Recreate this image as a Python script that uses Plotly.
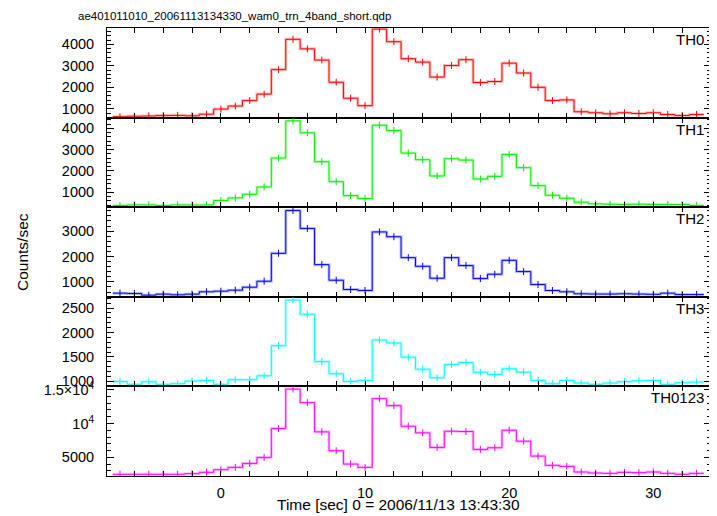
import plotly.graph_objects as go
from plotly.subplots import make_subplots

# ---- data ----
time_bins = list(range(-7, 34))  # bin centers [sec], 1 s bins
th0 = [630, 650, 660, 680, 690, 670, 745, 983, 1125, 1379, 1681, 2823, 4235, 3790, 3267, 2236,
       1490, 1141, 4711, 4124, 3331, 3172, 2474, 3013, 3283, 2220, 2268, 3124, 2665, 1998, 1379,
       1411, 857, 810, 763, 810, 778, 810, 730, 683, 730]
th1 = [377, 408, 408, 377, 408, 408, 408, 611, 735, 907, 1249, 2603, 4347, 3787, 2432, 1498,
       844, 704, 4144, 3895, 2837, 2526, 1763, 2572, 2510, 1622, 1747, 2775, 2152, 1311, 860,
       720, 533, 455, 440, 430, 440, 430, 424, 424, 377]
th2 = [556, 543, 477, 517, 490, 517, 608, 634, 673, 791, 1026, 2124, 3809, 3104, 1679, 1065,
       699, 660, 2967, 2777, 1954, 1614, 1144, 1954, 1640, 1130, 1301, 1849, 1405, 895, 660,
       608, 530, 520, 520, 530, 520, 510, 556, 500, 500]
th3 = [1000, 939, 993, 939, 952, 1007, 1020, 939, 1034, 1034, 1115, 1731, 2665, 2374, 1406, 1156,
       1000, 1020, 1846, 1785, 1494, 1250, 1074, 1345, 1386, 1189, 1142, 1257, 1189, 1020, 952,
       1020, 966, 939, 966, 993, 1014, 1020, 939, 973, 986]
th0123 = [2500, 2500, 2500, 2500, 2500, 2594, 2790, 3182, 3525, 4113, 4996, 9259, 15089, 13081,
          8768, 5975, 4015, 3525, 13668, 12644, 9601, 8621, 6470, 8866, 8817, 6176, 6416, 9013,
          7396, 5191, 3819, 3672, 2839, 2692, 2643, 2790, 2741, 2839, 2643, 2500, 2643]

band_names = ["TH0", "TH1", "TH2", "TH3", "TH0123"]
band_values = [th0, th1, th2, th3, th0123]
band_colors = ["#ff0000", "#00ee00", "#0000ff", "#00ffff", "#ff00ff"]
y_ranges = [[586, 4762], [300, 4500], [412, 3941], [898, 2730], [2250, 15480]]
y_tickvals = [[1000, 2000, 3000, 4000], [1000, 2000, 3000, 4000], [1000, 2000, 3000],
              [1000, 1500, 2000, 2500], [5000, 10000, 15000]]
y_ticktext = [["1000", "2000", "3000", "4000"], ["1000", "2000", "3000", "4000"],
              ["1000", "2000", "3000"], ["1000", "1500", "2000", "2500"],
              ["5000", "10<sup>4</sup>", "1.5×10<sup>4</sup>"]]
y_minor = [200, 200, 200, 100, 1000]
x_tickvals = [0, 10, 20, 30]
title_text = "ae401011010_20061113134330_wam0_trn_4band_short.qdp"
xlabel = "Time [sec] 0 = 2006/11/13 13:43:30"
ylabel = "Counts/sec"

FONT = "Liberation Sans, Arial, Helvetica, sans-serif"

# page body has an 8px margin: figure is drawn 8px in from the top-left corner
W, H = 709, 508

fig = make_subplots(rows=5, cols=1, shared_xaxes=True, vertical_spacing=0)

edges = [t - 0.5 for t in time_bins] + [time_bins[-1] + 0.5]
for i, (vals, col) in enumerate(zip(band_values, band_colors)):
    r = i + 1
    ystep = vals + [vals[-1]]
    fig.add_trace(go.Scatter(x=edges, y=ystep, mode="lines", line_shape="hv",
                             line=dict(color=col, width=3), opacity=0.25,
                             hoverinfo="skip", showlegend=False), row=r, col=1)
    fig.add_trace(go.Scatter(x=edges, y=ystep, mode="lines", line_shape="hv",
                             line=dict(color=col, width=1),
                             showlegend=False), row=r, col=1)
    fig.add_trace(go.Scatter(x=time_bins, y=vals, mode="markers",
                             marker=dict(symbol="line-ns", size=5,
                                         line=dict(color=col, width=1)),
                             showlegend=False), row=r, col=1)
    fig.update_yaxes(range=y_ranges[i], tickmode="array", tickvals=y_tickvals[i],
                     ticktext=y_ticktext[i], ticks="inside", ticklen=7, tickwidth=1,
                     tickcolor="black", showline=True, linecolor="black", linewidth=1,
                     mirror="ticks", showgrid=False, zeroline=False,
                     ticklabelstandoff=9,
                     minor=dict(dtick=y_minor[i], tick0=0, ticks="inside", ticklen=4,
                                tickcolor="black", tickwidth=1, showgrid=False),
                     tickfont=dict(family=FONT, size=14.5, color="black"),
                     row=r, col=1)
    fig.update_xaxes(range=[-7.9, 34.0], tickmode="array", tickvals=x_tickvals,
                     ticks="inside", ticklen=5, tickwidth=1, tickcolor="black",
                     showline=True, linecolor="black", linewidth=1, mirror="ticks",
                     showgrid=False, zeroline=False,
                     minor=dict(dtick=2, tick0=0, ticks="inside", ticklen=5,
                                tickcolor="black", tickwidth=1, showgrid=False),
                     showticklabels=(r == 5), ticklabelstandoff=4,
                     tickfont=dict(family=FONT, size=14.5, color="black"),
                     row=r, col=1)
    xd = "x domain" if r == 1 else f"x{r} domain"
    yd = "y domain" if r == 1 else f"y{r} domain"
    fig.add_annotation(xref=xd, yref=yd, x=1, y=1, xanchor="right", yanchor="top",
                       text=band_names[i], showarrow=False, xshift=-5, yshift=-1,
                       font=dict(family=FONT, size=15, color="black"))

fig.add_annotation(xref="paper", yref="paper", x=0.4818, y=-0.0647, xanchor="center",
                   yanchor="middle", text=xlabel, showarrow=False,
                   font=dict(family=FONT, size=15.5, color="black"))
fig.add_annotation(xref="paper", yref="paper", x=-0.1407, y=0.5, xanchor="center",
                   yanchor="middle", text=ylabel, showarrow=False, textangle=-90,
                   font=dict(family=FONT, size=15.5, color="black"))

fig.update_layout(
    width=W, height=H,
    margin=dict(l=99, r=6, t=20, b=40),
    paper_bgcolor="white", plot_bgcolor="white",
    title=dict(text=title_text, x=70 / W, xanchor="left", xref="container",
               y=1 - 8 / H, yanchor="middle",
               font=dict(family=FONT, size=11.5, color="black")),
    showlegend=False,
    hovermode=False,
)

fig.write_html("out.html")
